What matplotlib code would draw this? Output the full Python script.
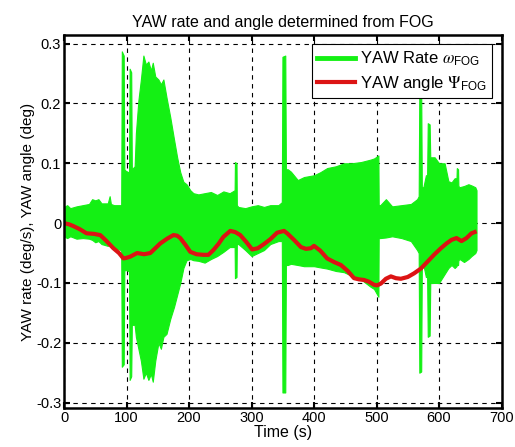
import matplotlib
matplotlib.use("Agg")
import matplotlib.pyplot as plt

plt.rcParams.update({
    "font.family": ["Liberation Sans", "DejaVu Sans"],
    "font.size": 9,
    "mathtext.fontset": "stix",
})

# FOG yaw rate: upper / lower envelope of the sampled signal (deg/s)
rate_t = [0, 5, 10, 20, 30, 40, 45, 50, 55, 60, 70, 73, 75, 80, 91,
          91.5, 92.5, 95.5, 96.5, 98, 103, 104, 105, 107.5, 108.5, 113,
          115, 119, 123, 127, 131, 135, 139, 142, 146, 151, 155, 159, 164,
          170, 176, 181, 186, 191, 196, 202, 207, 215, 225, 235, 245, 255,
          265, 273, 273.5, 276, 276.5, 279, 290, 300, 310, 320, 330, 343,
          348.5, 349.5, 354, 355, 358, 363, 374, 384, 400, 410, 421, 435,
          448, 460, 475, 490, 496, 503, 503.5, 506, 515, 525, 540, 555, 565,
          567.5, 568.5, 571.5, 572.5, 575, 579, 581, 582, 585, 586, 588,
          593, 600, 609, 615, 620, 625, 628, 628.5, 630.5, 631, 633, 640,
          647, 652, 658, 660]
rate_hi = [0.027, 0.030, 0.025, 0.028, 0.030, 0.032, 0.040, 0.038, 0.040, 0.033,
           0.033, 0.045, 0.032, 0.030, 0.030,
           0.030, 0.287, 0.280, 0.090, 0.088, 0.085, 0.085, 0.258, 0.252, 0.090, 0.095,
           0.150, 0.205, 0.240, 0.280, 0.265, 0.270, 0.255, 0.268, 0.245, 0.240,
           0.232, 0.240, 0.210,
           0.177, 0.140, 0.110, 0.085, 0.069, 0.065, 0.055, 0.050, 0.048, 0.050,
           0.052, 0.047, 0.053,
           0.050, 0.055, 0.102, 0.100, 0.030, 0.027, 0.025, 0.028, 0.030, 0.027,
           0.030, 0.030,
           0.035, 0.278, 0.280, 0.090, 0.090, 0.086, 0.072, 0.077, 0.080, 0.085,
           0.092, 0.095,
           0.100, 0.100, 0.102, 0.106, 0.108, 0.113, 0.030, 0.030, 0.040, 0.028,
           0.030, 0.032, 0.040,
           0.045, 0.225, 0.220, 0.060, 0.060, 0.080, 0.080, 0.167, 0.165, 0.110,
           0.110,
           0.110, 0.100, 0.100, 0.070, 0.068, 0.075, 0.075, 0.092, 0.090, 0.062,
           0.060, 0.062,
           0.065, 0.063, 0.060, 0.055]
rate_lo = [-0.022, -0.025, -0.022, -0.026, -0.025, -0.026, -0.028, -0.032, -0.030,
           -0.035, -0.038, -0.036, -0.040, -0.042, -0.045,
           -0.045, -0.240, -0.236, -0.080, -0.078, -0.080, -0.080, -0.262, -0.256,
           -0.170, -0.170,
           -0.190, -0.210, -0.230, -0.260, -0.250, -0.262, -0.252, -0.265, -0.230,
           -0.200, -0.210, -0.190, -0.185,
           -0.160, -0.140, -0.120, -0.100, -0.075, -0.062, -0.060, -0.062, -0.063,
           -0.066, -0.060, -0.055, -0.048,
           -0.040, -0.040, -0.092, -0.090, -0.035, -0.035, -0.045, -0.055, -0.050,
           -0.045, -0.035, -0.030,
           -0.030, -0.283, -0.283, -0.070, -0.070, -0.068, -0.070, -0.072, -0.072,
           -0.074, -0.076, -0.080,
           -0.082, -0.088, -0.094, -0.106, -0.110, -0.123, -0.025, -0.025, -0.024,
           -0.022, -0.025, -0.030, -0.045,
           -0.050, -0.250, -0.248, -0.070, -0.070, -0.090, -0.090, -0.190, -0.188,
           -0.100, -0.100,
           -0.100, -0.100, -0.085, -0.075, -0.070, -0.075, -0.072, -0.070, -0.070,
           -0.062, -0.060, -0.065,
           -0.060, -0.055, -0.050, -0.045]

# FOG yaw angle (deg)
ang_t = [0, 8, 15, 25, 36, 48, 58, 68, 79, 88, 95, 100, 106, 117, 128, 138,
         146, 154, 165, 175, 181, 186, 194, 202, 212, 223, 231, 239, 247,
         255, 266, 274, 282, 292, 301, 310, 320, 330, 341, 352, 357, 368,
         379, 387, 395, 400, 410, 421, 432, 443, 454, 464, 472, 480, 488,
         496, 501, 507, 515, 523, 531, 539, 550, 560, 571, 582, 592, 603,
         612, 620, 628, 636, 644, 652, 657]
ang_v = [0.000, -0.002, -0.005, -0.010, -0.017, -0.018, -0.020, -0.030, -0.042,
         -0.050, -0.059, -0.058, -0.056, -0.050, -0.052, -0.050,
         -0.042, -0.034, -0.026, -0.020, -0.021, -0.025, -0.036, -0.048, -0.052,
         -0.053, -0.053, -0.045, -0.035,
         -0.023, -0.013, -0.015, -0.020, -0.032, -0.044, -0.042, -0.035, -0.027,
         -0.016, -0.013, -0.017, -0.028,
         -0.040, -0.043, -0.042, -0.038, -0.046, -0.059, -0.065, -0.070, -0.080,
         -0.092, -0.094, -0.095, -0.098,
         -0.103, -0.104, -0.101, -0.093, -0.089, -0.092, -0.093, -0.090, -0.084,
         -0.076, -0.064, -0.053, -0.042,
         -0.034, -0.028, -0.025, -0.030, -0.025, -0.017, -0.015]

fig = plt.figure(figsize=(5.15, 4.47), dpi=100)
ax = fig.add_axes([0.1243, 0.0872, 0.8495, 0.834])

green = "#14f014"
red = "#dc1414"
ax.fill_between(rate_t, rate_lo, rate_hi, color=green, lw=0.8, edgecolor=green,
                zorder=2)
ax.plot([], [], color=green, lw=3.5, label=r"YAW Rate $\omega_{\mathregular{FOG}}$")
ax.plot(ang_t, ang_v, color=red, lw=3.0, zorder=3,
        label=r"YAW angle $\Psi_{\mathregular{FOG}}$")

ax.set_xlim(0, 700)
ax.set_ylim(-0.309, 0.314)
ax.set_xticks(range(0, 701, 100))
ax.set_yticks([-0.3, -0.2, -0.1, 0, 0.1, 0.2, 0.3])
ax.set_yticklabels(["-0.3", "-0.2", "-0.1", "0", "0.1", "0.2", "0.3"])
ax.grid(True, color="black", ls=(0, (4, 4)), lw=0.8)
ax.set_axisbelow(True)
ax.tick_params(direction="in", top=True, right=True, length=4, width=1.5,
               labelsize=10.5, pad=2)
for s in ax.spines.values():
    s.set_linewidth(1.8)
    s.set_zorder(4)

ax.set_title("YAW rate and angle determined from FOG", fontsize=11.5, pad=6)
ax.set_xlabel("Time (s)", fontsize=11.5, labelpad=0)
ax.set_ylabel("YAW rate (deg/s), YAW angle (deg)", fontsize=11, labelpad=1)

leg = ax.legend(loc="upper right", fontsize=12, frameon=True, fancybox=False,
                edgecolor="black", framealpha=1, borderaxespad=0.55,
                handlelength=2.3, handletextpad=0.3, labelspacing=0.35,
                borderpad=0.3)
leg.get_frame().set_linewidth(0.8)
leg.set_zorder(5)

fig.savefig("out.png", dpi=100)
